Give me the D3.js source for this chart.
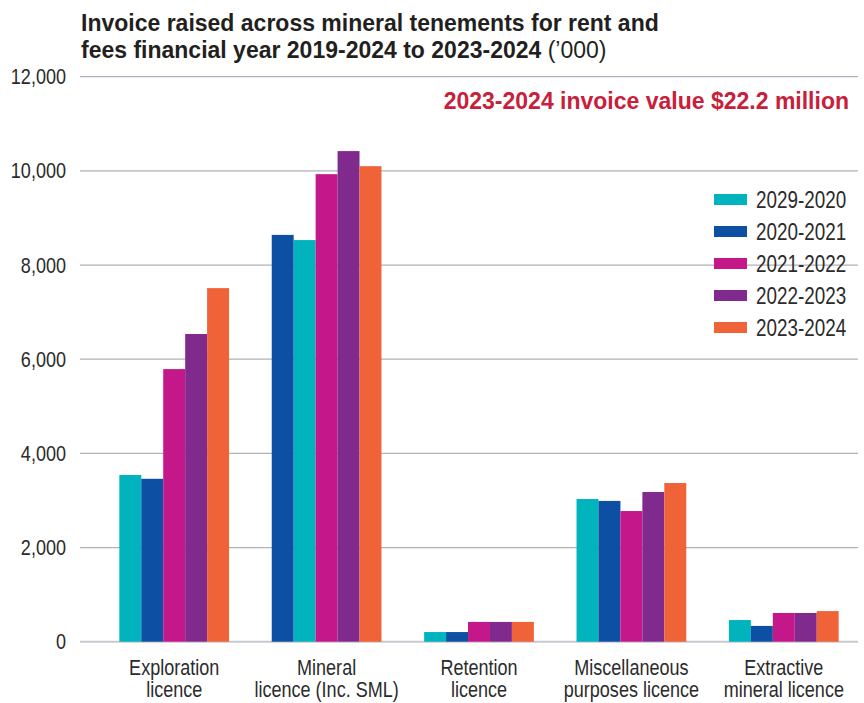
<!DOCTYPE html>
<html>
<head>
<meta charset="utf-8">
<script src="https://cdn.jsdelivr.net/npm/d3@7"></script>
<style>
  html, body { margin: 0; padding: 0; background: #fff; }
  svg { display: block; font-family: "Liberation Sans", Arial, sans-serif; }
</style>
</head>
<body>
<svg id="chart" width="864" height="703"></svg>
<script>
// Licence types (two-line axis labels)
const categories = [
  ["Exploration", "licence"],
  ["Mineral", "licence (Inc. SML)"],
  ["Retention", "licence"],
  ["Miscellaneous", "purposes licence"],
  ["Extractive", "mineral licence"]
];

// Financial-year series, as labelled in the legend
const seriesNames = ["2029-2020", "2020-2021", "2021-2022", "2022-2023", "2023-2024"];
const seriesColors = ["#00b3bd", "#0d4fa2", "#c4178a", "#812a8e", "#f06237"];

// Invoice values ('000) per series, one entry per licence type
const fy2019_20 = [3540, 8530, 205, 3030, 460];
const fy2020_21 = [3460, 8640, 205, 2990, 335];
const fy2021_22 = [5790, 9930, 420, 2775, 610];
const fy2022_23 = [6535, 10420, 420, 3180, 610];
const fy2023_24 = [7510, 10100, 420, 3370, 650];
const seriesValues = [fy2019_20, fy2020_21, fy2021_22, fy2022_23, fy2023_24];

// Slot order of the series within each group (the Mineral group lists 2020-2021 first)
const slotOrder = [
  [0, 1, 2, 3, 4],
  [1, 0, 2, 3, 4],
  [0, 1, 2, 3, 4],
  [0, 1, 2, 3, 4],
  [0, 1, 2, 3, 4]
];

const yTicks = [0, 2000, 4000, 6000, 8000, 10000, 12000];

const svg = d3.select("#chart");
const gridLeft = 80, gridRight = 858;
const plot = { left: 98, right: 860, top: 76.7, bottom: 641.7 };

// Condensed face for axis and legend text; if the narrow family is missing,
// fall back to the regular face squeezed horizontally.
const NARROW = "'Liberation Sans Narrow', 'Arial Narrow', 'Liberation Sans', Arial, sans-serif";
const probe = svg.append("text").attr("font-size", 40).style("font-family", "'Liberation Sans Narrow', 'Liberation Sans'").text("Exploration 2020");
const wNarrow = probe.node().getComputedTextLength();
probe.style("font-family", "'Liberation Sans'");
const wRegular = probe.node().getComputedTextLength();
probe.remove();
const squeeze = (wNarrow < wRegular * 0.95) ? 1 : 0.82;

function narrowText(parent, x, y, str, size, anchor) {
  return parent.append("text")
    .attr("transform", `translate(${x},${y}) scale(${squeeze},1)`)
    .attr("text-anchor", anchor || "start")
    .attr("font-size", size)
    .style("font-family", NARROW)
    .attr("fill", "#2b2b2b")
    .text(str);
}

const x = d3.scaleBand()
  .domain(d3.range(categories.length))
  .range([plot.left, plot.right])
  .paddingInner(0.28)
  .paddingOuter(0.14);

const xInner = d3.scaleBand()
  .domain(d3.range(seriesNames.length))
  .range([0, x.bandwidth()]);

const y = d3.scaleLinear().domain([0, 12000]).range([plot.bottom, plot.top]);

// Gridlines
svg.append("g")
  .selectAll("line")
  .data(yTicks)
  .join("line")
  .attr("x1", gridLeft)
  .attr("x2", gridRight)
  .attr("y1", d => y(d))
  .attr("y2", d => y(d))
  .attr("stroke", d => d === 0 ? "#c9c7ce" : "#b3afbd")
  .attr("stroke-width", d => d === 0 ? 2 : 1.3);

// Y axis labels
const fmt = d3.format(",");
const yG = svg.append("g");
yTicks.forEach(t => narrowText(yG, 66, y(t) + 7.5, fmt(t), 22, "end"));

// Bars
const groups = svg.append("g")
  .selectAll("g")
  .data(categories.map((c, i) => i))
  .join("g")
  .attr("transform", i => `translate(${x(i)},0)`);

groups.selectAll("rect")
  .data(ci => slotOrder[ci].map((si, slot) => ({ slot, si, v: seriesValues[si][ci] })))
  .join("rect")
  .attr("x", d => xInner(d.slot))
  .attr("width", xInner.bandwidth())
  .attr("y", d => y(d.v))
  .attr("height", d => y(0) - y(d.v))
  .attr("fill", d => seriesColors[d.si]);

// Category labels
const catG = svg.append("g");
categories.forEach((lines, i) => {
  const cx = x(i) + x.bandwidth() / 2;
  lines.forEach((ln, k) => narrowText(catG, cx, 675 + k * 22, ln, 22, "middle"));
});

// Title
const title = svg.append("text")
  .attr("x", 81)
  .attr("y", 31)
  .attr("font-size", 23)
  .attr("font-weight", "bold")
  .attr("fill", "#231f20");
title.append("tspan").attr("x", 81).text("Invoice raised across mineral tenements for rent and");
title.append("tspan").attr("x", 81).attr("dy", 27).text("fees financial year 2019-2024 to 2023-2024");
title.append("tspan").attr("font-weight", "normal").text(" (’000)");

// Highlighted total
svg.append("text")
  .attr("x", 849)
  .attr("y", 109)
  .attr("text-anchor", "end")
  .attr("font-size", 23)
  .attr("font-weight", "bold")
  .attr("fill", "#c8203a")
  .text("2023-2024 invoice value $22.2 million");

// Legend
const legend = svg.append("g");
seriesNames.forEach((name, i) => {
  const ly = 199.5 + i * 32;
  legend.append("rect")
    .attr("x", 714)
    .attr("y", ly - 5.5)
    .attr("width", 33)
    .attr("height", 11)
    .attr("fill", seriesColors[i]);
  narrowText(legend, 756, ly + 8, name, 23, "start");
});
</script>
</body>
</html>
